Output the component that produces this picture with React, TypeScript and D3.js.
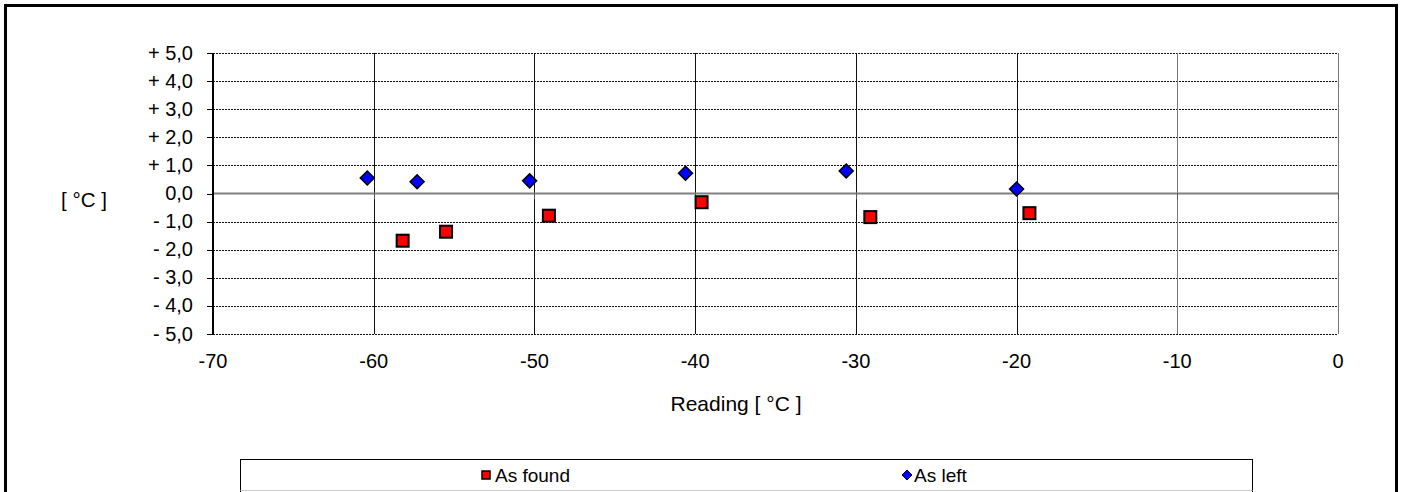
import React from "react";
import * as d3 from "d3";

const foundX = [-58.2, -55.5, -49.1, -39.6, -29.1, -19.2];
const foundY = [-1.68, -1.36, -0.79, -0.31, -0.84, -0.70];
const leftX = [-60.4, -57.3, -50.3, -40.6, -30.6, -20.0];
const leftY = [0.55, 0.42, 0.45, 0.72, 0.80, 0.16];
const xTicks = [-70, -60, -50, -40, -30, -20, -10, 0];
const yTicks = [5, 4, 3, 2, 1, 0, -1, -2, -3, -4, -5];
const seriesNames = ["As found", "As left"];

const W = 1403;
const H = 492;
const FONT = "'Liberation Sans', Arial, sans-serif";

function fmtY(v: number) {
  const s = Math.abs(v).toFixed(1).replace(".", ",");
  if (v > 0) return "+ " + s;
  if (v < 0) return "- " + s;
  return s;
}

export default function App() {
  const x = d3.scaleLinear().domain([-70, 0]).range([213, 1338]);
  const y = d3.scaleLinear().domain([-5, 5]).range([334, 53]);
  const diamond = (cx: number, cy: number, r: number) =>
    `M${cx},${cy - r}L${cx + r},${cy}L${cx},${cy + r}L${cx - r},${cy}Z`;

  return (
    <svg
      width={W}
      height={H}
      style={{ position: "absolute", left: 0, top: 0, background: "#fff" }}
      fontFamily={FONT}
    >
      <rect x={0} y={0} width={W} height={H} fill="#fff" />
      {/* outer border */}
      <rect x={5.5} y={5.5} width={1391} height={520} fill="none" stroke="#000" strokeWidth={3} />

      {/* horizontal gridlines */}
      {yTicks.filter((t) => t !== 0).map((t) => (
        <line key={"h" + t} x1={x(-70)} x2={x(0)} y1={Math.round(y(t)) + 0.5} y2={Math.round(y(t)) + 0.5}
          stroke="#111" strokeWidth={1} strokeDasharray="2,1" />
      ))}
      {/* vertical gridlines */}
      {xTicks.filter((t) => t !== -70).map((t) => (
        <line key={"v" + t} x1={Math.round(x(t)) + 0.5} x2={Math.round(x(t)) + 0.5} y1={y(5)} y2={y(-5)}
          stroke={t >= -10 ? "#777" : "#111"} strokeWidth={1} />
      ))}
      {/* zero line (x axis) */}
      <line x1={x(-70)} x2={x(0)} y1={y(0)} y2={y(0)} stroke="#808080" strokeWidth={2} />
      {xTicks.map((t) => (
        <line key={"xt" + t} x1={Math.round(x(t)) + 0.5} x2={Math.round(x(t)) + 0.5} y1={y(0)} y2={y(0) + 6}
          stroke="#555" strokeWidth={1} />
      ))}
      {/* left axis */}
      <line x1={x(-70)} x2={x(-70)} y1={y(5)} y2={y(-5)} stroke="#000" strokeWidth={2} />
      {yTicks.map((t) => (
        <line key={"yt" + t} x1={x(-70) - 6} x2={x(-70)} y1={Math.round(y(t)) + 0.5} y2={Math.round(y(t)) + 0.5}
          stroke="#000" strokeWidth={1} />
      ))}

      {/* y tick labels */}
      {yTicks.map((t) => (
        <text key={"yl" + t} x={193} y={y(t) + 6.5} textAnchor="end" fontSize={20} fill="#000">
          {fmtY(t)}
        </text>
      ))}
      {/* x tick labels */}
      {xTicks.map((t) => (
        <text key={"xl" + t} x={x(t)} y={368} textAnchor="middle" fontSize={20} fill="#000">
          {t}
        </text>
      ))}
      {/* axis titles */}
      <text x={736} y={411} textAnchor="middle" fontSize={21} fill="#000">Reading [ °C ]</text>
      <text x={84} y={207} textAnchor="middle" fontSize={20.5} fill="#000">[ °C ]</text>

      {/* As left diamonds */}
      {leftX.map((v, i) => (
        <path key={"l" + i} d={diamond(x(v), y(leftY[i]), 7)} fill="#0000ff" stroke="#000" strokeWidth={1.5} />
      ))}
      {/* As found squares */}
      {foundX.map((v, i) => (
        <rect key={"f" + i} x={x(v) - 6} y={y(foundY[i]) - 6} width={12} height={12}
          fill="#ff0000" stroke="#000" strokeWidth={2} />
      ))}

      {/* legend */}
      <rect x={240.5} y={459.5} width={1012} height={40} fill="#fff" stroke="#000" strokeWidth={1} />
      <line x1={240.5} x2={1252.5} y1={490.5} y2={490.5} stroke="#ccc" strokeWidth={1} />
      <rect x={482} y={471} width={8} height={8} fill="#ff0000" stroke="#000" strokeWidth={1.5} />
      <text x={495} y={482} fontSize={19} fill="#000">{seriesNames[0]}</text>
      <path d={diamond(907, 475, 5)} fill="#0000ff" stroke="#000" strokeWidth={1} />
      <text x={914} y={482} fontSize={19} fill="#000">{seriesNames[1]}</text>
    </svg>
  );
}
